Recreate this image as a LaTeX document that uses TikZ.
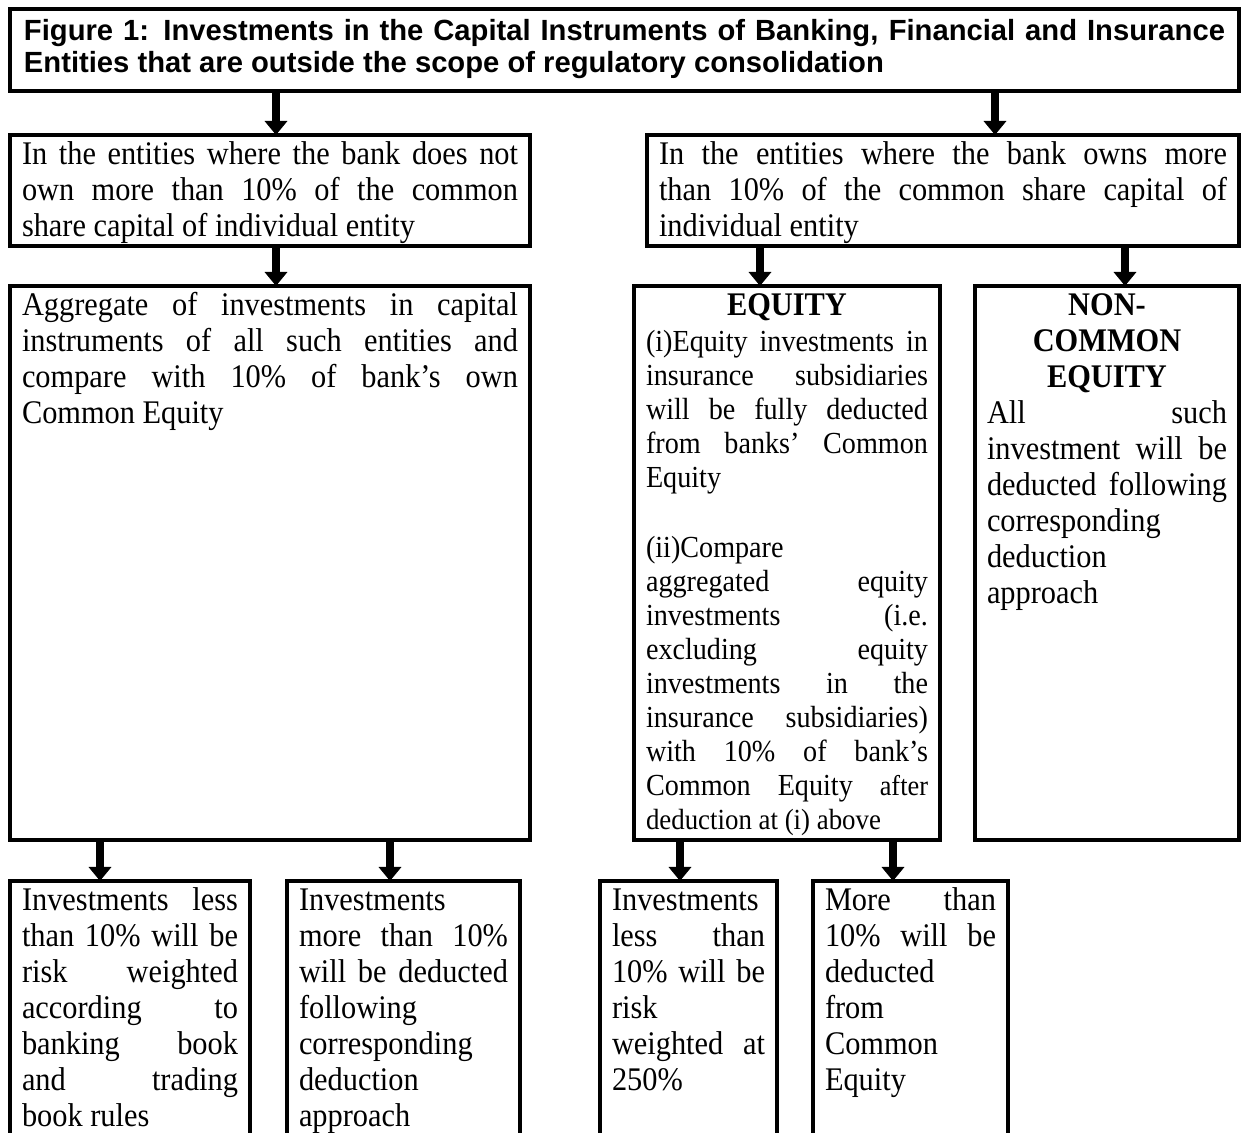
\documentclass[tikz,border=0pt]{standalone}
\usepackage{fontspec}
\setmainfont{Liberation Serif}[FakeStretch=0.92]
\newfontfamily\headfont{Liberation Sans}
\usetikzlibrary{arrows.meta}
\tikzset{>={Triangle[width=11pt,length=7pt]}}

\newcommand{\bodysize}{\fontsize{16.5}{18}\selectfont}
\newcommand{\eqsize}{\fontsize{15.3}{17}\selectfont}
\newcommand{\boxtext}[4][15pt]{\parbox[t][#2][t]{#3}{%
  \tolerance=10000\hyphenpenalty=10000\exhyphenpenalty=10000
  \rule{0pt}{#1}#4}}

\begin{document}
\begin{tikzpicture}[x=0.5pt,y=-0.5pt,
    box/.style={draw,line width=2.4pt,anchor=north west,inner xsep=6pt,inner ysep=0pt,outer sep=0pt},
    flow/.style={->,line width=3.6pt}]
  \useasboundingbox (0,0) rectangle (1244,1133);
  \node[box,inner xsep=7pt] (title) at (10,9) {\boxtext[16pt]{41pt}{600.5pt}{\headfont\bfseries\fontsize{14.6}{16}\selectfont
    Figure 1: Investments in the Capital Instruments of Banking, Financial and Insurance\linebreak
    Entities that are outside the scope of regulatory consolidation}};
  \node[box] (lowshare) at (10,135) {\boxtext{55.5pt}{248pt}{\bodysize
    In the entities where the bank does not\linebreak own more than 10\% of the common\linebreak
    share capital of individual entity}};
  \node[box] (highshare) at (647,135) {\boxtext{55.5pt}{284pt}{\bodysize
    In the entities where the bank owns more\linebreak than 10\% of the common share capital of\linebreak
    individual entity}};
  \node[box] (aggregate) at (10,286) {\boxtext{277pt}{248pt}{\bodysize
    Aggregate of investments in capital\linebreak instruments of all such entities and\linebreak
    compare with 10\% of bank's own\linebreak Common Equity}};
  \node[box] (equity) at (634,286) {\boxtext{277pt}{141pt}{{\centering\bfseries\bodysize EQUITY\par}\vspace{1pt}\eqsize
    (i)Equity investments in\linebreak insurance subsidiaries\linebreak will be fully deducted\linebreak
    from banks' Common\linebreak Equity\par\vspace{18pt}
    (ii)Compare\newline aggregated equity\linebreak investments (i.e.\linebreak excluding equity\linebreak
    investments in the\linebreak insurance subsidiaries)\linebreak with 10\% of bank's\linebreak
    Common Equity {\fontsize{14.3}{17}\selectfont after}\linebreak
    {\fontsize{14.6}{17}\selectfont deduction at (i) above}}};
  \node[box] (noncommon) at (975,286) {\boxtext{277pt}{120pt}{{\centering\bfseries\bodysize NON-\\COMMON\\EQUITY\par}\bodysize
    All such\linebreak investment will be\linebreak deducted following\linebreak
    corresponding\newline deduction\newline approach}};
  \node[box] (lessten) at (10,881) {\boxtext{140pt}{108pt}{\bodysize
    Investments less\linebreak than 10\% will be\linebreak risk weighted\linebreak according to\linebreak
    banking book\linebreak and trading\linebreak book rules}};
  \node[box] (moreten) at (287,881) {\boxtext{140pt}{104.5pt}{\bodysize
    Investments\newline more than 10\%\linebreak will be deducted\linebreak following\newline
    corresponding\newline deduction\newline approach}};
  \node[box] (lessrw) at (600,881) {\boxtext{140pt}{76.5pt}{\bodysize
    Investments\newline less than\linebreak 10\% will be\linebreak risk\newline weighted at\linebreak 250\%}};
  \node[box] (morededuct) at (813,881) {\boxtext{140pt}{85.5pt}{\bodysize
    More than\linebreak 10\% will be\linebreak deducted\newline from\newline Common\newline Equity}};
  \coordinate (xa) at (276,0);
  \coordinate (xb) at (995,0);
  \coordinate (xc) at (760,0);
  \coordinate (xd) at (1125,0);
  \coordinate (xe) at (100,0);
  \coordinate (xf) at (390,0);
  \coordinate (xg) at (680,0);
  \coordinate (xh) at (893,0);
  \draw[flow] (title.south -| xa) -- (lowshare.north -| xa);
  \draw[flow] (title.south -| xb) -- (highshare.north -| xb);
  \draw[flow] (lowshare.south -| xa) -- (aggregate.north -| xa);
  \draw[flow] (highshare.south -| xc) -- (equity.north -| xc);
  \draw[flow] (highshare.south -| xd) -- (noncommon.north -| xd);
  \draw[flow] (aggregate.south -| xe) -- (lessten.north -| xe);
  \draw[flow] (aggregate.south -| xf) -- (moreten.north -| xf);
  \draw[flow] (equity.south -| xg) -- (lessrw.north -| xg);
  \draw[flow] (equity.south -| xh) -- (morededuct.north -| xh);
\end{tikzpicture}
\end{document}
